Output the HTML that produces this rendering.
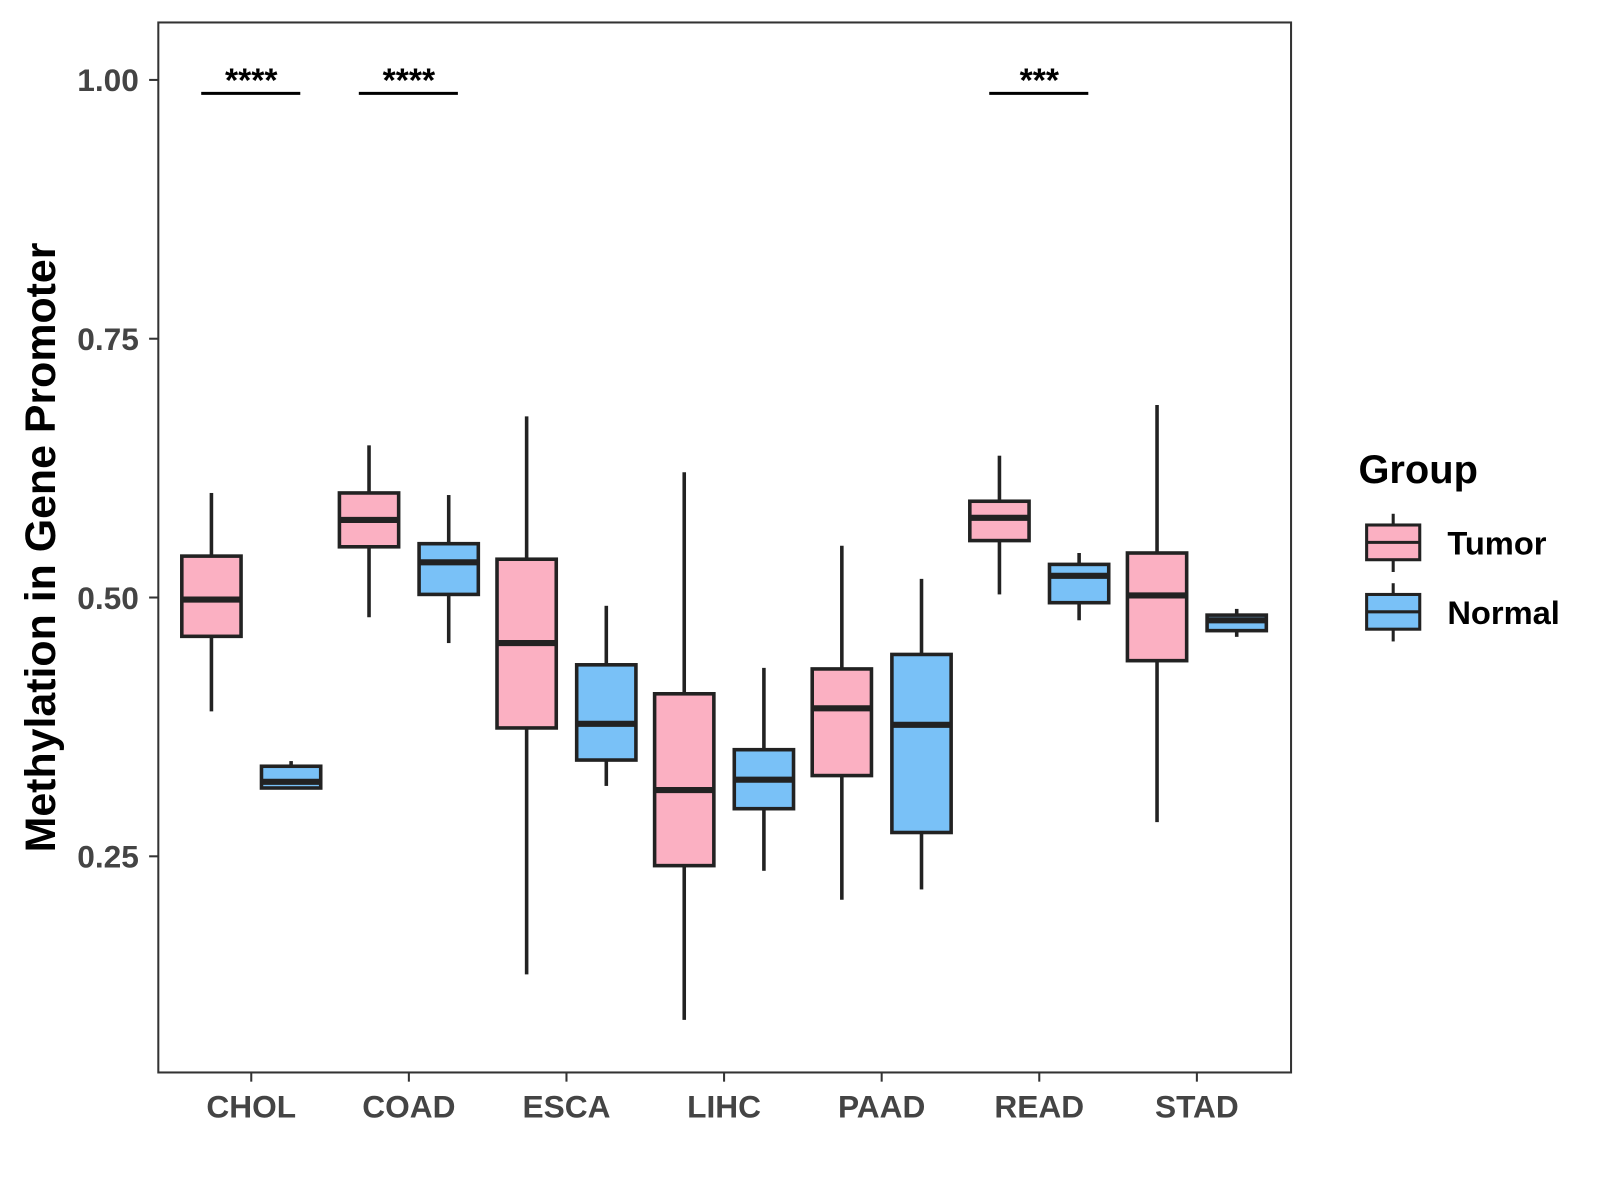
<!DOCTYPE html>
<html><head><meta charset="utf-8"><style>
html,body{margin:0;padding:0;background:#fff;}
svg{display:block;font-family:"Liberation Sans",Arial,sans-serif;}
</style></head><body>
<svg id="chart" width="1600" height="1200" viewBox="0 0 1600 1200">
<g transform="scale(1.0214)">
<rect x="155" y="22" width="1109" height="1028" fill="#fff" stroke="#333" stroke-width="2"/>
<g id="marks"></g>
<g id="axes"></g>
<text transform="translate(54,536) rotate(-90)" text-anchor="middle" font-size="42" font-weight="bold" fill="#000">Methylation in Gene Promoter</text>
<g>
<text x="1330" y="473" font-size="39" font-weight="bold">Group</text>
<g>
<line x1="1364" y1="503" x2="1364" y2="560" stroke="#222" stroke-width="3"/>
<rect x="1338" y="514" width="52" height="34" fill="#fbb0c2" stroke="#222" stroke-width="3"/>
<line x1="1338" y1="531" x2="1390" y2="531" stroke="#222" stroke-width="3"/>
<text x="1417" y="543" font-size="32" font-weight="bold">Tumor</text></g>
<g>
<line x1="1364" y1="571" x2="1364" y2="628" stroke="#222" stroke-width="3"/>
<rect x="1338" y="582" width="52" height="34" fill="#79c1f7" stroke="#222" stroke-width="3"/>
<line x1="1338" y1="599" x2="1390" y2="599" stroke="#222" stroke-width="3"/>
<text x="1417" y="611" font-size="32" font-weight="bold">Normal</text></g>
</g>
</g>
</svg>
<script>
const categories=["CHOL","COAD","ESCA","LIHC","PAAD","READ","STAD"];
// [low, q1, median, q3, high]
const tumorStats=[[0.390,0.4625,0.498,0.540,0.601],[0.481,0.549,0.575,0.601,0.647],[0.136,0.374,0.456,0.537,0.675],[0.092,0.241,0.314,0.407,0.621],[0.208,0.328,0.393,0.431,0.550],[0.503,0.555,0.577,0.593,0.637],[0.283,0.439,0.502,0.543,0.686]];
const normalStats=[[0.316,0.316,0.322,0.337,0.342],[0.456,0.503,0.534,0.552,0.599],[0.318,0.343,0.378,0.435,0.492],[0.236,0.296,0.324,0.353,0.432],[0.218,0.273,0.377,0.445,0.518],[0.478,0.495,0.521,0.532,0.543],[0.462,0.468,0.478,0.483,0.489]];
const yTicks=[0.25,0.50,0.75,1.00];
const yTickLabels=["0.25","0.50","0.75","1.00"];
const sigCategories=["CHOL","COAD","READ"];
const sigLabels=["****","****","***"];
const sigLevel=0.987;

const NS="http://www.w3.org/2000/svg";
const y=v=>585-(v-0.5)*1013.5;
const x=i=>246+i*154.3;
function mk(tag,attrs,parent){const e=document.createElementNS(NS,tag);for(const k in attrs)e.setAttribute(k,attrs[k]);parent.appendChild(e);return e;}
const marks=document.getElementById('marks'),axes=document.getElementById('axes');
function box(cx,s,fill,name){
  const g=mk('g',{},marks);
  
  
  const st={stroke:'#222','stroke-width':3.5};
  mk('line',Object.assign({x1:cx,x2:cx,y1:y(s[4]),y2:y(s[3])},st),g);
  mk('line',Object.assign({x1:cx,x2:cx,y1:y(s[1]),y2:y(s[0])},st),g);
  mk('rect',Object.assign({x:cx-29,y:y(s[3]),width:58,height:Math.max(0,y(s[1])-y(s[3])),fill:fill},st),g);
  mk('line',{x1:cx-29,x2:cx+29,y1:y(s[2]),y2:y(s[2]),stroke:'#222','stroke-width':6},g);
}
categories.forEach((c,i)=>{
  box(x(i)-39,tumorStats[i],'#fbb0c2','box-tumor-'+c.toLowerCase());
  box(x(i)+39,normalStats[i],'#79c1f7','box-normal-'+c.toLowerCase());
  mk('line',{x1:x(i),x2:x(i),y1:1050,y2:1059,stroke:'#333','stroke-width':2},axes);
  const t=mk('text',{x:x(i),y:1094,'text-anchor':'middle','font-size':31,'font-weight':'bold',fill:'#444'},axes);
  
  
  t.textContent=c;
});
yTicks.forEach((v,i)=>{
  mk('line',{x1:146,x2:155,y1:y(v),y2:y(v),stroke:'#333','stroke-width':2},axes);
  const t=mk('text',{x:136,y:y(v)+11,'text-anchor':'end','font-size':31,'font-weight':'bold',fill:'#444'},axes);
  
  
  t.textContent=yTickLabels[i];
});
sigCategories.forEach((c,k)=>{
  const i=categories.indexOf(c);
  const g=mk('g',{},marks);
  
  
  mk('line',{x1:x(i)-49,x2:x(i)+48,y1:y(sigLevel),y2:y(sigLevel),stroke:'#000','stroke-width':3},g);
  const t=mk('text',{x:x(i),y:y(sigLevel)-2,'text-anchor':'middle','font-size':33,'font-weight':'bold'},g);
  t.textContent=sigLabels[k];
});
</script>
</body></html>
